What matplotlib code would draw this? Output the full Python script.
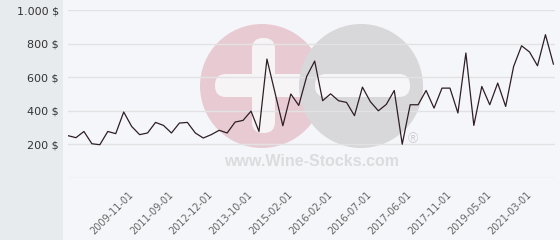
import numpy as np
import matplotlib
matplotlib.use('Agg')
import matplotlib.pyplot as plt
from matplotlib.patches import Circle, FancyBboxPatch, Rectangle
from matplotlib.transforms import IdentityTransform, ScaledTranslation

# Price per point (USD)
prices = [252, 240, 277, 204, 198, 277, 264, 393, 307, 258,
          268, 331, 313, 268, 327, 331, 268, 238, 258, 284,
          268, 333, 343, 398, 277, 708, 510, 311, 500, 432,
          605, 696, 460, 501, 460, 450, 371, 541, 454, 400,
          438, 521, 201, 436, 436, 521, 416, 535, 535, 387,
          744, 313, 545, 436, 565, 426, 664, 787, 750, 668,
          853, 678]

# Labelled categories
tick_index = [8, 13, 18, 23, 28, 33, 38, 43, 48, 53, 58]
tick_dates = ['2009-11-01', '2011-09-01', '2012-12-01', '2013-10-01',
              '2015-02-01', '2016-02-01', '2016-07-01', '2017-06-01',
              '2017-11-01', '2019-05-01', '2021-03-01']

y_ticks = [200, 400, 600, 800, 1000]
y_labels = ['200 $', '400 $', '600 $', '800 $', '1.000 $']

W, H = 560, 240
fig = plt.figure(figsize=(W / 100, H / 100), dpi=100, facecolor='#f5f6f9')

# Left grey panel behind the y labels
fig.add_artist(Rectangle((0, 0), 63 / W, 1, transform=fig.transFigure,
                         facecolor='#e7ebee', edgecolor='none', zorder=-3))


# Watermark logo (pixel coords, y measured from the top)
def px(x, y):
    return (x, H - y)


idt = IdentityTransform()
wm = [
    Circle(px(262, 86), 62, facecolor='#e8cbd2', edgecolor='none'),
    FancyBboxPatch(px(252, 133), 23, 95, boxstyle='round,pad=0,rounding_size=11',
                   facecolor='#f7f4f6', edgecolor='none'),
    FancyBboxPatch(px(215, 97), 95, 23, boxstyle='round,pad=0,rounding_size=11',
                   facecolor='#f7f4f6', edgecolor='none'),
    Circle(px(361, 86), 62, facecolor='#d8d8da', edgecolor='none'),
    FancyBboxPatch(px(315, 97), 95, 23, boxstyle='round,pad=0,rounding_size=11',
                   facecolor='#f6f6f8', edgecolor='none'),
]
for p in wm:
    p.set_transform(idt)
    p.set_zorder(-2)
    fig.add_artist(p)
fig.text(312 / W, 1 - 161 / H, 'www.Wine-Stocks.com', ha='center', va='center',
         fontsize=11.5, fontweight='bold', color='#dcdcde',
         family='Liberation Sans', zorder=-2)
fig.text(413 / W, 1 - 139 / H, '®', ha='center', va='center',
         fontsize=10, color='#cfcfd3', family='Liberation Sans', zorder=-2)

# Plot area: x 68..555 px, y 10 (1000) .. 178 (0) px
ax = fig.add_axes([68 / W, 1 - 178 / H, (555 - 68) / W, (178 - 10) / H])
ax.set_facecolor('none')
ax.set_zorder(1)

x = np.arange(len(prices))
ax.plot(x, prices, color='#2e1e25', linewidth=0.9)

ax.set_xlim(0, 61.2)
ax.set_ylim(0, 1000)
for v in [0] + y_ticks:
    ax.axhline(v, color='#e2e2e4', linewidth=1, zorder=0)

ax.set_yticks(y_ticks)
ax.set_yticklabels(y_labels, fontsize=8, color='#333333')
ax.set_xticks(tick_index)
ax.set_xticklabels(tick_dates, rotation=45, ha='right', va='center',
                   rotation_mode='anchor', fontsize=7, color='#666666')
shift = ScaledTranslation(-4 / 100, 0, fig.dpi_scale_trans)
for lab in ax.get_xticklabels():
    lab.set_transform(lab.get_transform() + shift)
ax.tick_params(axis='y', length=0, pad=6.5)
ax.tick_params(axis='x', length=0, pad=11)
for s in ax.spines.values():
    s.set_visible(False)

fig.savefig('out.png', dpi=100, facecolor=fig.get_facecolor())
